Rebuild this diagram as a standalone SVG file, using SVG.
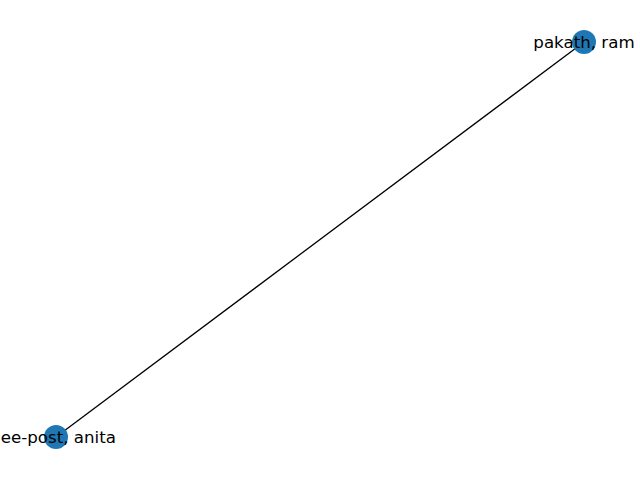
<svg xmlns="http://www.w3.org/2000/svg" width="640" height="480" viewBox="0 0 640 480">
<style>
.node{fill:#1f78b4}
.lbl{font-family:"DejaVu Sans",sans-serif;font-size:16.67px;fill:#000;text-anchor:middle;dominant-baseline:central}
.edge{stroke:#000;stroke-width:1.3;fill:none}
</style>
<rect width="640" height="480" fill="#fff"/>
<g id="connectors">
<line class="edge" x1="56" y1="437" x2="584" y2="42"/>
</g>
<g id="node-lee-post">
<circle class="node" cx="56" cy="437" r="12"/>
<text class="lbl" x="56" y="437">lee-post, anita</text>
</g>
<g id="node-pakath">
<circle class="node" cx="584" cy="42" r="12"/>
<text class="lbl" x="584" y="42">pakath, ram</text>
</g>
</svg>
